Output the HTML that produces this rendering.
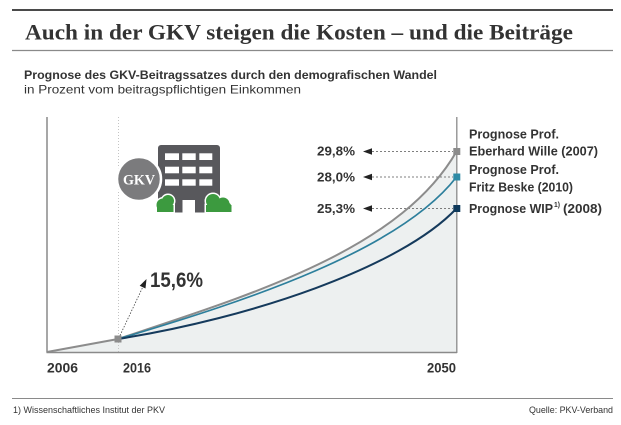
<!DOCTYPE html>
<html>
<head>
<meta charset="utf-8">
<style>
  html,body{margin:0;padding:0;background:#fff;}
  svg{display:block;}
  .sans{font-family:"Liberation Sans",sans-serif;}
  .serif{font-family:"Liberation Serif",serif;}
</style>
</head>
<body>
<svg width="621" height="425" viewBox="0 0 621 425" xmlns="http://www.w3.org/2000/svg">
  <rect x="0" y="0" width="621" height="425" fill="#fff"/>

  <!-- header rules -->
  <rect x="12" y="9" width="601" height="2" fill="#4a4a4a"/>
  <line x1="12" y1="50.5" x2="613" y2="50.5" stroke="#8a8a8a" stroke-width="1.2"/>

  <!-- title -->
  <text class="serif" x="25" y="39.5" font-size="22" font-weight="bold" fill="#333" textLength="548" lengthAdjust="spacingAndGlyphs">Auch in der GKV steigen die Kosten – und die Beiträge</text>

  <!-- subtitle -->
  <text class="sans" x="24" y="79" font-size="12" font-weight="bold" fill="#333" textLength="413" lengthAdjust="spacingAndGlyphs">Prognose des GKV-Beitragssatzes durch den demografischen Wandel</text>
  <text class="sans" x="24" y="93.5" font-size="12" fill="#333" textLength="277" lengthAdjust="spacingAndGlyphs">in Prozent vom beitragspflichtigen Einkommen</text>

  <!-- filled area under gray curve -->
  <path fill="#edf0f0" d="M47,352 L118,339 C250,295 400,250 456.5,151.5 L456.5,352 Z"/>

  <!-- 2016 dotted vertical -->
  <line x1="118.5" y1="117" x2="118.5" y2="352" stroke="#c4c4c4" stroke-width="1" stroke-dasharray="1,2"/>

  <!-- axes -->
  <line x1="47" y1="117" x2="47" y2="352.5" stroke="#8a8a8a" stroke-width="1.5"/>
  <line x1="46.5" y1="352.5" x2="457" y2="352.5" stroke="#8a8a8a" stroke-width="1.5"/>
  <line x1="456.8" y1="117" x2="456.8" y2="353" stroke="#8a8a8a" stroke-width="1.3"/>

  <!-- dashed leaders -->
  <g stroke="#555" stroke-width="0.8" stroke-dasharray="2,2">
    <line x1="372" y1="151.5" x2="453" y2="151.5"/>
    <line x1="372" y1="177" x2="453" y2="177"/>
    <line x1="372" y1="208.5" x2="453" y2="208.5"/>
  </g>
  <g fill="#222">
    <polygon points="363,151.5 372,148.3 372,154.7"/>
    <polygon points="363,177 372,173.8 372,180.2"/>
    <polygon points="363,208.5 372,205.3 372,211.7"/>
  </g>

  <!-- curves -->
  <line x1="47" y1="352" x2="118" y2="339" stroke="#8c8c8c" stroke-width="2"/>
  <path fill="none" stroke="#8c8c8c" stroke-width="2" d="M118,339 C250,295 400,250 456.5,151.5"/>
  <path fill="none" stroke="#2d7f9c" stroke-width="1.7" d="M118,339 C250,300 400,250 456.5,177"/>
  <path fill="none" stroke="#153a5c" stroke-width="2" d="M118,339 C250,318 400,268 456.5,208.5"/>

  <!-- markers -->
  <rect x="114.5" y="335.5" width="7" height="7" fill="#8c8c8c"/>
  <rect x="453.3" y="148" width="7" height="7" fill="#8c8c8c"/>
  <rect x="453.3" y="173.5" width="7" height="7" fill="#2e8aa5"/>
  <rect x="453.3" y="205" width="7" height="7" fill="#0f3a5c"/>

  <!-- 15,6% callout -->
  <line x1="120" y1="335.5" x2="143.5" y2="285.5" stroke="#444" stroke-width="0.8" stroke-dasharray="1.5,1.5"/>
  <polygon points="146.5,279 145.5,288.5 139.7,285.7" fill="#222"/>
  <text class="sans" x="150" y="287" font-size="21" font-weight="bold" fill="#333" textLength="53" lengthAdjust="spacingAndGlyphs">15,6%</text>

  <!-- value labels -->
  <g class="sans" font-size="13" font-weight="bold" fill="#333">
    <text x="317" y="155.5" textLength="38" lengthAdjust="spacingAndGlyphs">29,8%</text>
    <text x="317" y="181.5" textLength="38" lengthAdjust="spacingAndGlyphs">28,0%</text>
    <text x="317" y="213" textLength="38" lengthAdjust="spacingAndGlyphs">25,3%</text>
  </g>

  <!-- legend -->
  <g class="sans" font-size="13" font-weight="bold" fill="#333">
    <text x="469" y="138.5" textLength="90" lengthAdjust="spacingAndGlyphs">Prognose Prof.</text>
    <text x="469" y="155.5" textLength="129" lengthAdjust="spacingAndGlyphs">Eberhard Wille (2007)</text>
    <text x="469" y="174" textLength="90" lengthAdjust="spacingAndGlyphs">Prognose Prof.</text>
    <text x="469" y="191.5" textLength="104" lengthAdjust="spacingAndGlyphs">Fritz Beske (2010)</text>
    <text x="469" y="213" textLength="84" lengthAdjust="spacingAndGlyphs">Prognose WIP</text>
    <text x="554" y="207" font-size="7.5" textLength="6" lengthAdjust="spacingAndGlyphs">1)</text>
    <text x="563" y="213" textLength="39" lengthAdjust="spacingAndGlyphs">(2008)</text>
  </g>

  <!-- year labels -->
  <g class="sans" font-size="14" font-weight="bold" fill="#333">
    <text x="47" y="372.5" textLength="31" lengthAdjust="spacingAndGlyphs">2006</text>
    <text x="123" y="372.5" textLength="28" lengthAdjust="spacingAndGlyphs">2016</text>
    <text x="427" y="372.5" textLength="29" lengthAdjust="spacingAndGlyphs">2050</text>
  </g>

  <!-- GKV icon -->
  <rect x="158" y="145" width="62" height="67.5" rx="3" fill="#58585c"/>
  <rect x="182.5" y="200" width="12.5" height="13" fill="#fff"/>
  <g fill="#fff">
    <rect x="165" y="153.3" width="14" height="6.7"/>
    <rect x="182.3" y="153.3" width="13.4" height="6.7"/>
    <rect x="199.3" y="153.3" width="13" height="6.7"/>
    <rect x="165" y="166.7" width="14" height="6.6"/>
    <rect x="182.3" y="166.7" width="13.4" height="6.6"/>
    <rect x="199.3" y="166.7" width="13" height="6.6"/>
    <rect x="165" y="179.3" width="14" height="6.4"/>
    <rect x="182.3" y="179.3" width="13.4" height="6.4"/>
    <rect x="199.3" y="179.3" width="13" height="6.4"/>
  </g>
  <!-- bushes: white outline then green -->
  <g fill="#fff" stroke="#fff" stroke-width="3">
    <circle cx="163" cy="205" r="6.5"/>
    <circle cx="168" cy="201" r="6"/>
    <rect x="157" y="205" width="16.5" height="7"/>
    <circle cx="213" cy="201" r="7"/>
    <circle cx="223" cy="204" r="6.5"/>
    <circle cx="226.5" cy="207" r="5"/>
    <rect x="206" y="205" width="25.5" height="7"/>
  </g>
  <g fill="#3c9a3f">
    <circle cx="163" cy="205" r="6.5"/>
    <circle cx="168" cy="201" r="6"/>
    <rect x="157" y="205" width="16.5" height="7"/>
    <circle cx="213" cy="201" r="7"/>
    <circle cx="223" cy="204" r="6.5"/>
    <circle cx="226.5" cy="207" r="5"/>
    <rect x="206" y="205" width="25.5" height="7"/>
  </g>
  <rect x="150" y="212.5" width="85" height="4" fill="#fff"/>
  <circle cx="139" cy="179" r="22" fill="#7b7b7d" stroke="#fff" stroke-width="2.5"/>
  <text class="serif" x="139" y="184.5" font-size="15" font-weight="bold" fill="#fff" text-anchor="middle" textLength="32" lengthAdjust="spacingAndGlyphs">GKV</text>

  <!-- footer -->
  <line x1="12" y1="398.5" x2="613" y2="398.5" stroke="#8a8a8a" stroke-width="1"/>
  <text class="sans" x="13" y="413" font-size="9.5" fill="#333" textLength="152" lengthAdjust="spacingAndGlyphs">1) Wissenschaftliches Institut der PKV</text>
  <text class="sans" x="529" y="413" font-size="9.5" fill="#333" textLength="84" lengthAdjust="spacingAndGlyphs">Quelle: PKV-Verband</text>
</svg>
</body>
</html>
